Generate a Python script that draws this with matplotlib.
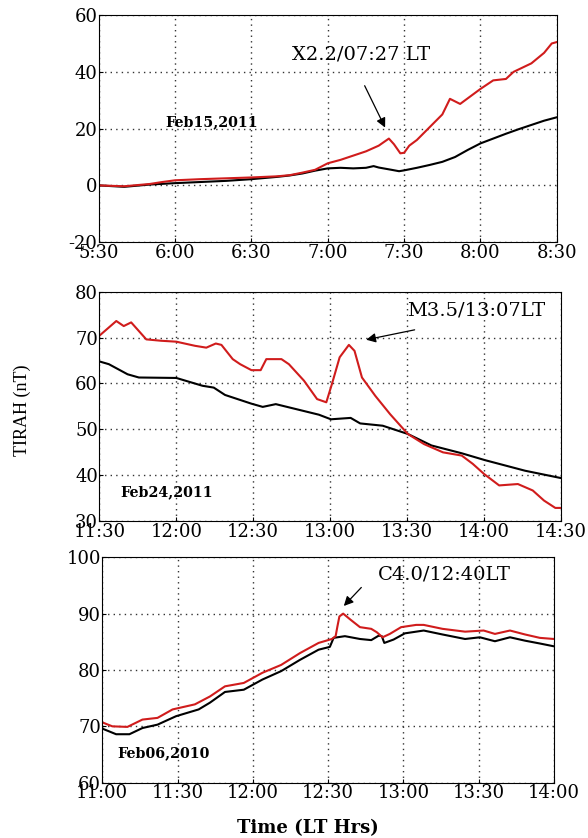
import matplotlib.pyplot as plt

plt.rcParams["font.family"] = "DejaVu Serif"
plt.rcParams["axes.unicode_minus"] = False

# ---- panel 1 : Feb15,2011 (minutes after 5:30) ----
p1_black_t = [0, 10, 20, 30, 40, 50, 60, 70, 75, 80, 85, 90, 95, 100, 105, 108, 110, 115, 118,
              120, 125, 130, 135, 140, 145, 150, 155, 160, 165, 170, 175, 180]
p1_black_v = [0, -0.5, 0.3, 0.8, 1.2, 1.6, 2.2, 3.0, 3.5, 4.2, 5.2, 6.0, 6.2, 6.0, 6.2, 6.8, 6.3,
              5.5, 5.0, 5.3, 6.2, 7.2, 8.3, 10.0, 12.5, 14.8, 16.5, 18.2, 19.8, 21.3, 22.8, 24.0]
p1_red_t = [0, 10, 20, 25, 30, 40, 50, 60, 70, 75, 80, 85, 90, 95, 100, 105, 110, 114, 116, 118.5,
            120, 122, 125, 130, 135, 138, 142, 150, 155, 160, 163, 170, 175, 178, 180]
p1_red_v = [0, -0.3, 0.5, 1.2, 1.8, 2.2, 2.5, 2.8, 3.2, 3.6, 4.5, 5.5, 7.8, 9.0, 10.5, 12.0, 14.0,
            16.5, 14.5, 11.3, 11.5, 14.0, 16.0, 20.5, 25.0, 30.5, 28.7, 34.0, 37.0, 37.5, 40.0,
            43.0, 46.7, 50.0, 50.5]
p1_ticks = ["5:30", "6:00", "6:30", "7:00", "7:30", "8:00", "8:30"]

# ---- panel 2 : Feb24,2011 (minutes after 11:30) ----
p2_red_t = [0, 6.6, 9.5, 12.4, 18.3, 24.1, 30, 37.3, 41.7, 45.4, 47.6, 52, 54.9, 59.3, 62.9, 65.1,
            71, 73.9, 79.8, 84.9, 88.5, 90.7, 93.7, 97.3, 99.5, 102.4, 107.6, 113.4, 120.3, 126.6,
            134, 141.3, 145.6, 150, 155.9, 163.2, 169, 173.4, 177.8, 180]
p2_red_v = [70.4, 73.6, 72.5, 73.3, 69.6, 69.3, 69.1, 68.2, 67.8, 68.7, 68.4, 65.3, 64.2, 62.9, 62.9,
            65.3, 65.3, 64.2, 60.6, 56.6, 55.9, 59.9, 65.7, 68.4, 67.1, 61.3, 57.3, 53.3, 49.0, 46.8,
            45.0, 44.3, 42.5, 40.3, 37.8, 38.1, 36.7, 34.5, 32.9, 32.9]
p2_black_t = [0, 3.7, 11, 15.4, 30, 40.2, 44.6, 49, 59.3, 63.7, 68.8, 78.3, 85.6, 90.3, 98, 101.7,
              110.5, 120.3, 129.5, 141.3, 150.4, 166, 180]
p2_black_v = [64.8, 64.2, 62.0, 61.3, 61.2, 59.5, 59.1, 57.5, 55.6, 54.9, 55.5, 54.2, 53.2, 52.2,
              52.5, 51.3, 50.8, 49.0, 46.5, 44.8, 43.3, 41.0, 39.4]
p2_ticks = ["11:30", "12:00", "12:30", "13:00", "13:30", "14:00", "14:30"]

# ---- panel 3 : Feb06,2010 (minutes after 11:00) ----
p3_red_t = [0, 4, 10, 16, 22, 28, 36.9, 42.9, 48.9, 56.4, 63.8, 71.3, 78.8, 86.2, 91.5, 93, 93.7,
            94.5, 96, 99, 102.7, 107.2, 109.4, 111.7, 114.6, 119.1, 125.1, 128.1, 135.6, 144.6, 152,
            156.5, 162.5, 168.5, 174.4, 180]
p3_red_v = [70.7, 70.0, 69.9, 71.2, 71.5, 73.0, 73.9, 75.3, 77.1, 77.7, 79.5, 80.9, 83.0, 84.8, 85.5,
            86.0, 87.7, 89.5, 90.0, 88.9, 87.6, 87.3, 86.7, 85.8, 86.4, 87.6, 88.0, 88.0, 87.3, 86.8,
            87.0, 86.4, 87.0, 86.3, 85.7, 85.5]
p3_black_t = [0, 5.5, 10.8, 16, 22, 29.4, 38.4, 42.9, 48.9, 56.4, 63.8, 71.3, 78.8, 86.2, 90.7, 92.2,
              96.7, 102.7, 107.2, 110.2, 111.4, 112.4, 116.1, 120.6, 128.1, 135.6, 144.6, 150.5,
              156.5, 162.5, 168.5, 174.4, 180]
p3_black_v = [69.6, 68.6, 68.6, 69.7, 70.3, 71.8, 73.0, 74.2, 76.1, 76.5, 78.3, 79.8, 81.8, 83.6, 84.1,
              85.7, 86.0, 85.5, 85.3, 86.1, 86.0, 84.8, 85.4, 86.5, 87.0, 86.3, 85.5, 85.8, 85.1, 85.8,
              85.2, 84.7, 84.2]
p3_ticks = ["11:00", "11:30", "12:00", "12:30", "13:00", "13:30", "14:00"]

red = "#d01c1c"
fig = plt.figure(figsize=(5.88, 8.38), dpi=100)

panels = [
    dict(rect=[0.168, 0.711, 0.779, 0.271], red=(p1_red_t, p1_red_v), black=(p1_black_t, p1_black_v),
         ticks=p1_ticks, ylim=(-20, 60), yticks=[-20, 0, 20, 40, 60],
         label="X2.2/07:27 LT", txy=(76, 43), axy=(113, 19.5), atxy=(104, 36),
         date="Feb15,2011", dxy=(26, 21)),
    dict(rect=[0.169, 0.378, 0.785, 0.274], red=(p2_red_t, p2_red_v), black=(p2_black_t, p2_black_v),
         ticks=p2_ticks, ylim=(30, 80), yticks=[30, 40, 50, 60, 70, 80],
         label="M3.5/13:07LT", txy=(120, 74), axy=(103, 69.4), atxy=(124, 71.8),
         date="Feb24,2011", dxy=(8, 35.5)),
    dict(rect=[0.174, 0.066, 0.768, 0.269], red=(p3_red_t, p3_red_v), black=(p3_black_t, p3_black_v),
         ticks=p3_ticks, ylim=(60, 100), yticks=[60, 70, 80, 90, 100],
         label="C4.0/12:40LT", txy=(110, 95.4), axy=(95.5, 91), atxy=(104, 95),
         date="Feb06,2010", dxy=(6, 64.6)),
]

for p in panels:
    ax = fig.add_axes(p["rect"])
    ax.plot(*p["black"], color="black", lw=1.5)
    ax.plot(*p["red"], color=red, lw=1.5)
    ax.set_xlim(0, 180)
    ax.set_ylim(*p["ylim"])
    ax.set_xticks(range(0, 181, 30))
    ax.set_xticklabels(p["ticks"])
    ax.set_yticks(p["yticks"])
    ax.tick_params(direction="in", labelsize=13, length=3, pad=1)
    ax.grid(True, linestyle=(0, (1, 3)), color="#333333", linewidth=1.0)
    ax.annotate("", xy=p["axy"], xytext=p["atxy"],
                arrowprops=dict(arrowstyle="-|>", color="black", lw=0.9, mutation_scale=14))
    ax.text(*p["txy"], p["label"], fontsize=14, va="bottom", ha="left")
    ax.text(*p["dxy"], p["date"], fontsize=10.3, fontweight="bold")

fig.text(0.038, 0.51, "TIRAH (nT)", rotation=90, va="center", ha="center",
         fontsize=13, family="Liberation Serif")
fig.text(0.524, 0.012, "Time (LT Hrs)", ha="center", va="center", fontsize=13,
         fontweight="bold")

plt.savefig("out.png", dpi=100)
